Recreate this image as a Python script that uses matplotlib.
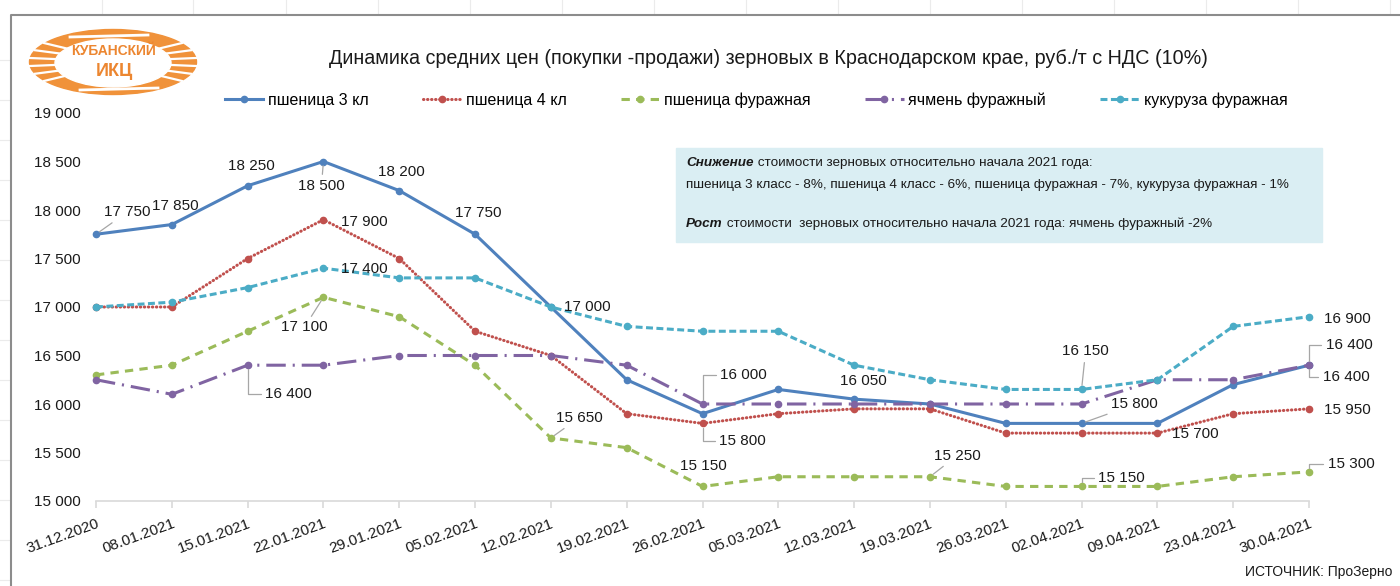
import matplotlib.pyplot as plt
from matplotlib.patches import Ellipse, Rectangle
from matplotlib.ticker import FuncFormatter
import numpy as np

dates = ["31.12.2020", "08.01.2021", "15.01.2021", "22.01.2021", "29.01.2021", "05.02.2021", "12.02.2021",
         "19.02.2021", "26.02.2021", "05.03.2021", "12.03.2021", "19.03.2021", "26.03.2021", "02.04.2021",
         "09.04.2021", "23.04.2021", "30.04.2021"]

wheat3 = [17750, 17850, 18250, 18500, 18200, 17750, 17000, 16250, 15900, 16150, 16050, 16000, 15800, 15800, 15800, 16200, 16400]
wheat4 = [17000, 17000, 17500, 17900, 17500, 16750, 16500, 15900, 15800, 15900, 15950, 15950, 15700, 15700, 15700, 15900, 15950]
wheat_feed = [16300, 16400, 16750, 17100, 16900, 16400, 15650, 15550, 15150, 15250, 15250, 15250, 15150, 15150, 15150, 15250, 15300]
barley = [16250, 16100, 16400, 16400, 16500, 16500, 16500, 16400, 16000, 16000, 16000, 16000, 16000, 16000, 16250, 16250, 16400]
corn = [17000, 17050, 17200, 17400, 17300, 17300, 17000, 16800, 16750, 16750, 16400, 16250, 16150, 16150, 16250, 16800, 16900]

names = ["пшеница 3 кл", "пшеница 4 кл", "пшеница фуражная", "ячмень фуражный", "кукуруза фуражная"]

plt.rcParams['font.family'] = ['Liberation Sans', 'DejaVu Sans']
plt.rcParams['lines.scale_dashes'] = False

fig = plt.figure(figsize=(14, 5.86), dpi=100)

# background layer in pixel coords (border, logo, note box)
bg = fig.add_axes([0, 0, 1, 1], zorder=-1)
bg.set_xlim(0, 1400)
bg.set_ylim(586, 0)
bg.axis('off')
for x in [102, 193, 286, 378, 470, 562, 654, 746, 838, 930, 1022, 1114, 1206, 1298, 1390]:
    bg.plot([x, x], [0, 14], color='#EBEBEB', lw=0.8)
for y in [60, 100, 140, 180, 220, 260, 300, 340, 380, 420, 460, 500, 540, 580]:
    bg.plot([0, 10], [y, y], color='#EBEBEB', lw=0.8)
bg.plot([11, 11, 1400], [586, 15, 15], color='#8C8C8C', lw=1.5)

# logo
orange = '#F0923A'
bg.add_patch(Ellipse((113, 62), 167, 65, color=orange))
for a in list(np.linspace(145, 215, 6)) + list(np.linspace(-35, 35, 6)):
    t = np.radians(a)
    bg.plot([113 + 52 * np.cos(t), 113 + 84 * np.cos(t)], [62 - 22 * np.sin(t), 62 - 33 * np.sin(t)],
            color='white', lw=1.6)
bg.add_patch(Ellipse((113, 63), 116, 48, color='white'))
bg.plot([70, 148], [37, 35], color='white', lw=2)
bg.plot([80, 158], [90, 88], color='white', lw=2)
bg.text(114, 51, "КУБАНСКИЙ", color='#EC8630', fontsize=10, fontweight='bold', ha='center', va='center')
bg.text(114, 72, "ИКЦ", color='#EC8630', fontsize=13, fontweight='bold', ha='center', va='center')

# note box
fs_note = 9.7
bg.add_patch(Rectangle((676, 148), 646, 94, color='#DAEEF3'))
t1 = bg.text(686, 163, "Снижение", fontsize=fs_note, fontweight='bold', fontstyle='italic', va='center',
             color='#1A1A1A')
bg.annotate(" стоимости зерновых относительно начала 2021 года:", xy=(1, 0), xycoords=t1,
            fontsize=fs_note, va='bottom', color='#1A1A1A')
bg.text(686, 185, "пшеница 3 класс - 8%, пшеница 4 класс - 6%, пшеница фуражная - 7%, кукуруза фуражная - 1%",
        fontsize=fs_note, va='center', color='#1A1A1A')
t2 = bg.text(686, 224, "Рост", fontsize=fs_note, fontweight='bold', fontstyle='italic', va='center',
             color='#1A1A1A')
bg.annotate(" стоимости  зерновых относительно начала 2021 года: ячмень фуражный -2%", xy=(1, 0), xycoords=t2,
            fontsize=fs_note, va='bottom', color='#1A1A1A')

bg.text(768, 58, "Динамика средних цен (покупки -продажи) зерновых в Краснодарском крае, руб./т с НДС (10%)",
        fontsize=14.2, ha='center', va='center', color='#1A1A1A')
bg.text(1392, 572, "ИСТОЧНИК: ПроЗерно", fontsize=10, ha='right', va='center', color='#1A1A1A')

# main chart
ax = fig.add_axes([96 / 1400, 1 - 501 / 586, 1213 / 1400, 388 / 586])
ax.patch.set_alpha(0)
x = np.arange(len(dates))

styles = [
    dict(color='#4F81BD', linestyle='-'),
    dict(color='#C0504D', linestyle=(0, (0.3, 2.6)), dash_capstyle='round'),
    dict(color='#9BBB59', linestyle=(0, (6, 4.5))),
    dict(color='#8064A2', linestyle=(0, (14, 5, 1.5, 5))),
    dict(color='#4BACC6', linestyle=(0, (5, 2.5))),
]
series = [wheat3, wheat4, wheat_feed, barley, corn]
for s, st, name in zip(series, styles, names):
    ax.plot(x, s, lw=2.2, marker='o', markersize=4.5, label=name, clip_on=False, **st)

ax.set_xlim(0, len(dates) - 1)
ax.set_ylim(15000, 19000)
ax.set_yticks(range(15000, 19001, 500))
ax.yaxis.set_major_formatter(FuncFormatter(lambda v, p: f"{int(v):,}".replace(",", " ")))
ax.set_xticks(x)
ax.set_xticklabels(dates, rotation=20, ha='right', rotation_mode='anchor')
for sp in ['left', 'right', 'top']:
    ax.spines[sp].set_visible(False)
ax.spines['bottom'].set_color('#D9D9D9')
ax.spines['bottom'].set_linewidth(1.2)
ax.tick_params(axis='y', length=0, pad=11, labelsize=11, labelcolor='#1A1A1A')
ax.tick_params(axis='x', length=5, color='#D9D9D9', width=1.2, pad=6, labelsize=11, labelcolor='#1A1A1A')

# data labels: (series index, point index, dx, dy, leader)
labels = [
    (0, 0, 31, -22, 'line'), (0, 1, 3, -19, None), (0, 2, 4, -20, None), (0, 3, -2, 24, 'line'),
    (0, 4, 2, -19, None), (0, 5, 3, -21, None), (0, 10, 9, -18, None), (0, 13, 53, -19, 'line'),
    (0, 16, 37, 12, 'elbow'),
    (1, 3, 41, 2, None), (1, 8, 40, 18, 'elbow'), (1, 14, 38, 1, None), (1, 16, 38, 1, None),
    (2, 3, -19, 30, 'line'), (2, 6, 28, -20, 'line'), (2, 8, 1, -20, None), (2, 11, 27, -21, 'line'),
    (2, 13, 40, -8, 'elbow'), (2, 16, 42, -8, 'elbow'),
    (3, 2, 41, 29, 'elbow'), (3, 8, 41, -29, 'elbow'), (3, 16, 40, -20, 'elbow'),
    (4, 3, 41, 1, None), (4, 6, 36, 0, None), (4, 13, 4, -38, 'line'), (4, 16, 38, 2, None),
]
for si, pi, dx, dy, leader in labels:
    v = series[si][pi]
    arrow = None
    if leader == 'line':
        arrow = dict(arrowstyle='-', color='#A6A6A6', lw=0.9, shrinkA=1, shrinkB=3)
    elif leader == 'elbow':
        arrow = dict(arrowstyle='-', color='#A6A6A6', lw=0.9, shrinkA=1, shrinkB=3,
                     connectionstyle='angle,angleA=0,angleB=90,rad=0')
    ax.annotate(f"{v:,}".replace(",", " "), xy=(pi, v), xytext=(dx, -dy), textcoords='offset pixels',
                ha='center', va='center', fontsize=11, color='#1A1A1A', arrowprops=arrow,
                annotation_clip=False)

fig.legend(loc='center', bbox_to_anchor=(756 / 1400, 1 - 100 / 586), ncol=5, frameon=False,
           fontsize=11.5, handlelength=2.4, handletextpad=0.3, columnspacing=3.4)

fig.savefig("out.png", dpi=100)
